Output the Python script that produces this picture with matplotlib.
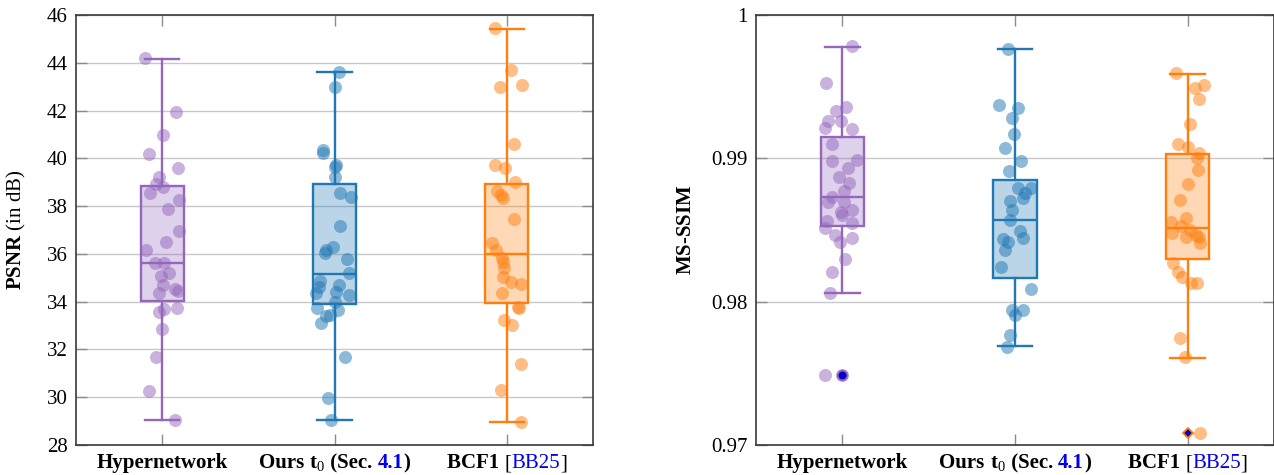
import matplotlib
matplotlib.use("Agg")
import matplotlib.pyplot as plt
from matplotlib.offsetbox import TextArea, HPacker, AnnotationBbox

plt.rcParams['font.family'] = ['Liberation Serif', 'DejaVu Serif']
plt.rcParams['mathtext.fontset'] = 'custom'
plt.rcParams['mathtext.rm'] = 'Liberation Serif'
plt.rcParams['mathtext.bf'] = 'Liberation Serif:bold'
plt.rcParams['mathtext.it'] = 'Liberation Serif:italic'

# ---------------- data ----------------
methods = ["Hypernetwork", "Ours t0", "BCF1"]
colors = ["#9467bd", "#1f77b4", "#ff7f0e"]

# x-tick label segments: (text, color, weight)
label_parts = [
    [("Hypernetwork", "black", "bold")],
    [("Ours ", "black", "bold"), (r"$\mathbf{t}_0$", "black", "bold"), (" (Sec. ", "black", "bold"),
     ("4.1", "#0000ee", "bold"), (")", "black", "bold")],
    [("BCF1 ", "black", "bold"), ("[", "black", "normal"), ("BB25", "#0000ee", "normal"), ("]", "black", "normal")],
]

# PSNR raw points and their horizontal jitter offsets
hyper_psnr = [44.19, 41.93, 40.98, 40.18, 39.61, 39.23, 38.91, 38.79, 38.56, 38.26, 37.88, 36.97,
              36.48, 36.16, 35.60, 35.60, 35.19, 35.07, 34.70, 34.52, 34.46, 34.37, 33.72, 33.68,
              33.58, 32.84, 31.70, 30.28, 29.05]
hyper_psnr_jit = [-0.099, 0.081, 0.002, -0.079, 0.091, -0.021, -0.035, 0.004, -0.073, 0.095, 0.031, 0.099,
                  0.023, -0.093, -0.044, 0.012, 0.037, -0.006, 0.004, 0.075, 0.089, -0.017, 0.085, 0.012,
                  -0.021, -0.002, -0.035, -0.079, 0.075]
ours_psnr = [43.63, 43.00, 40.35, 40.21, 39.72, 39.65, 39.23, 38.56, 38.39, 37.17, 36.30, 36.16, 36.04,
             35.77, 35.19, 34.88, 34.70, 34.63, 34.39, 34.28, 34.35, 34.00, 33.72, 33.65, 33.44, 33.40,
             33.10, 31.67, 29.96, 29.05]
ours_psnr_jit = [0.029, 0.004, -0.064, -0.064, 0.006, 0.004, 0.004, 0.033, 0.093, 0.033, -0.006, -0.052,
                 -0.058, 0.073, 0.087, -0.083, 0.029, -0.091, 0.010, 0.083, -0.106, 0.0, -0.102, 0.019,
                 -0.029, -0.052, -0.077, 0.062, -0.039, -0.019]
bcf_psnr = [45.44, 43.70, 42.97, 43.07, 40.60, 39.72, 39.61, 39.02, 38.65, 38.47, 38.33, 37.46, 36.47,
            36.16, 35.81, 35.67, 35.40, 35.05, 34.84, 34.74, 34.35, 33.79, 33.72, 33.23, 33.02, 31.38,
            30.30, 28.95]
bcf_psnr_jit = [-0.066, 0.025, -0.039, 0.087, 0.044, -0.066, -0.008, 0.048, -0.056, -0.033, -0.023, 0.039,
                -0.087, -0.062, -0.029, -0.023, -0.014, -0.023, 0.025, 0.083, -0.027, 0.064, 0.073, -0.019,
                0.029, 0.083, -0.033, 0.083]

# PSNR box statistics
psnr_med = [35.60, 35.16, 36.01]
psnr_q1 = [34.04, 33.90, 33.93]
psnr_q3 = [38.86, 38.93, 38.94]
psnr_whislo = [29.05, 29.05, 28.95]
psnr_whishi = [44.17, 43.61, 45.41]
psnr_fliers = [[], [], []]

# MS-SSIM raw points and jitter offsets
hyper_ms = [0.99784, 0.99523, 0.99360, 0.99333, 0.99263, 0.99263, 0.99214, 0.99202, 0.99100, 0.98988,
            0.98981, 0.98930, 0.98872, 0.98830, 0.98774, 0.98732, 0.98698, 0.98693, 0.98640, 0.98628,
            0.98605, 0.98565, 0.98551, 0.98516, 0.98465, 0.98446, 0.98418, 0.98296, 0.98209, 0.98058,
            0.97488, 0.97488]
hyper_ms_jit = [0.056, -0.093, 0.019, -0.039, -0.083, -0.010, -0.099, 0.054, -0.060, 0.087,
                -0.062, 0.035, -0.019, 0.039, 0.008, -0.058, -0.081, 0.008, 0.058, -0.006,
                0.0, -0.087, 0.058, -0.099, -0.043, 0.054, -0.015, 0.017, -0.062, -0.070,
                -0.099, 0.0]
ours_ms = [0.99763, 0.99372, 0.99353, 0.99279, 0.99170, 0.99070, 0.98981, 0.98912, 0.98791, 0.98795,
           0.98760, 0.98725, 0.98702, 0.98640, 0.98570, 0.98493, 0.98435, 0.98442, 0.98418, 0.98360,
           0.98240, 0.98088, 0.97942, 0.97942, 0.97907, 0.97767, 0.97686]
ours_ms_jit = [-0.043, -0.091, 0.015, -0.015, -0.006, -0.058, 0.035, -0.035, 0.019, 0.091,
               0.058, 0.048, -0.029, -0.019, -0.029, 0.029, -0.068, 0.048, -0.039, -0.058,
               -0.083, 0.091, -0.019, 0.048, 0.0, -0.029, -0.048]
bcf_ms = [0.99593, 0.99488, 0.99512, 0.99412, 0.99240, 0.99100, 0.99081, 0.99035, 0.99000, 0.98919,
          0.98821, 0.98709, 0.98581, 0.98558, 0.98530, 0.98500, 0.98477, 0.98465, 0.98449, 0.98453,
          0.98407, 0.98268, 0.98209, 0.98174, 0.98132, 0.98132, 0.97749, 0.97612, 0.97081]
bcf_ms_jit = [-0.070, 0.044, 0.097, 0.066, 0.012, -0.056, 0.002, 0.066, 0.056, 0.062,
              0.0, -0.046, -0.012, -0.099, -0.037, 0.012, -0.091, 0.050, 0.066, -0.008,
              0.070, -0.085, -0.056, -0.031, 0.021, 0.054, -0.046, -0.015, 0.070]

# MS-SSIM box statistics
ms_med = [0.98730, 0.98570, 0.98514]
ms_q1 = [0.98530, 0.98163, 0.98295]
ms_q3 = [0.99151, 0.98849, 0.99030]
ms_whislo = [0.98063, 0.97691, 0.97609]
ms_whishi = [0.99779, 0.99761, 0.99591]
ms_fliers = [[0.97488], [], [0.97081]]
flier_markers = ["o", "o", "D"]

psnr_ticks = [28, 30, 32, 34, 36, 38, 40, 42, 44, 46]
psnr_ticklabels = ["28", "30", "32", "34", "36", "38", "40", "42", "44", "46"]
ms_ticks = [0.97, 0.98, 0.99, 1.0]
ms_ticklabels = ["0.97", "0.98", "0.99", "1"]

FS = 15
W, H = 1274, 475
fig = plt.figure(figsize=(W / 100, H / 100), dpi=100)
ax1 = fig.add_axes([76 / W, 30 / H, 517 / W, 430 / H])
ax2 = fig.add_axes([756 / W, 30 / H, 518 / W, 430 / H])


def draw_panel(ax, points, jits, med, q1, q3, lo, hi, fliers, ylim, ticks, ticklabels, ylabel, label_x):
    positions = [1, 2, 3]
    for i in range(3):
        c = colors[i]
        stats = [dict(med=med[i], q1=q1[i], q3=q3[i], whislo=lo[i], whishi=hi[i], fliers=fliers[i])]
        lp = dict(color=c, linewidth=1.7)
        ax.bxp(stats, positions=[positions[i]], widths=0.25, capwidths=0.2, patch_artist=True,
               boxprops=dict(facecolor=c + "4d", edgecolor=c, linewidth=1.7),
               medianprops=lp, whiskerprops=lp, capprops=lp,
               flierprops=dict(marker=flier_markers[i], markerfacecolor="#0000c8",
                               markeredgecolor=c, markeredgewidth=1.3,
                               markersize=7 if flier_markers[i] == "o" else 5.5, zorder=5),
               manage_ticks=False, zorder=2)
        xs = [positions[i] + j for j in jits[i]]
        ax.scatter(xs, points[i], s=88, color=c, alpha=0.5, linewidths=0, zorder=3)
    ax.set_xlim(0.5, 3.5)
    ax.set_ylim(*ylim)
    ax.set_yticks(ticks)
    ax.set_yticklabels(ticklabels)
    ax.set_xticks(positions)
    ax.set_xticklabels(["", "", ""])
    ax.yaxis.grid(True, color="#c8c8c8", linewidth=1.0)
    ax.set_axisbelow(True)
    ax.tick_params(axis="both", direction="in", length=8, width=1.0, color="#8c8c8c",
                   top=True, right=True, labelsize=FS, pad=6)
    for s in ax.spines.values():
        s.set_color("#3a3a3a")
        s.set_linewidth(1.2)
    ax.set_ylabel(ylabel, fontsize=FS)
    ax.yaxis.set_label_coords(label_x, 0.5)
    for i in range(3):
        children = [TextArea(t, textprops=dict(color=col, fontweight=wt, fontsize=FS))
                    for (t, col, wt) in label_parts[i]]
        box = HPacker(children=children, align="baseline", pad=0, sep=0)
        ab = AnnotationBbox(box, (positions[i], 0), xycoords=ax.get_xaxis_transform(),
                            box_alignment=(0.5, 1), xybox=(0, -6), boxcoords="offset points",
                            frameon=False, pad=0, annotation_clip=False)
        ax.add_artist(ab)


draw_panel(ax1, [hyper_psnr, ours_psnr, bcf_psnr], [hyper_psnr_jit, ours_psnr_jit, bcf_psnr_jit],
           psnr_med, psnr_q1, psnr_q3, psnr_whislo, psnr_whishi, psnr_fliers,
           (28, 46), psnr_ticks, psnr_ticklabels, r"$\mathbf{PSNR}$ (in dB)", -0.092)
draw_panel(ax2, [hyper_ms, ours_ms, bcf_ms], [hyper_ms_jit, ours_ms_jit, bcf_ms_jit],
           ms_med, ms_q1, ms_q3, ms_whislo, ms_whishi, ms_fliers,
           (0.97, 1.0), ms_ticks, ms_ticklabels, r"$\mathbf{MS\text{-}SSIM}$", -0.116)

fig.savefig("out.png", dpi=100)
